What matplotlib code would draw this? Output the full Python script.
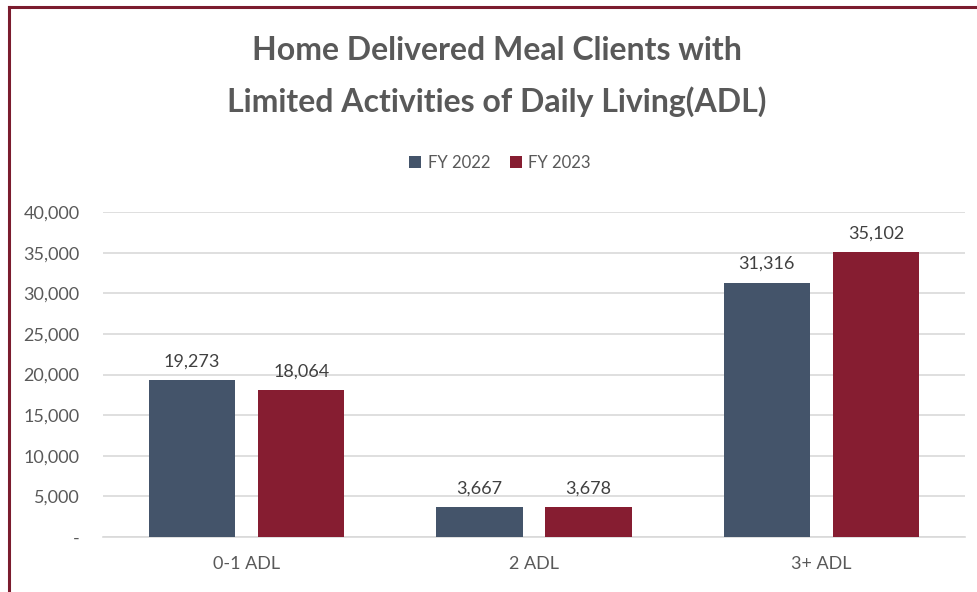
import numpy as np
import matplotlib.pyplot as plt
from matplotlib.lines import Line2D
from matplotlib.ticker import FuncFormatter

categories = ["0-1 ADL", "2 ADL", "3+ ADL"]
fy2022 = [19273, 3667, 31316]
fy2023 = [18064, 3678, 35102]
series_names = ["FY 2022", "FY 2023"]

blue = "#44546A"
red = "#861D31"
grey = "#595959"

plt.rcParams['font.family'] = ['Lato', 'DejaVu Sans']

fig = plt.figure(figsize=(9.77, 5.92), dpi=100)
ax = fig.add_axes([103/977, 1-537/592, 862/977, (537-212)/592])

x = np.arange(len(categories))
w = 0.30
off = 0.19
b1 = ax.bar(x - off, fy2022, w, color=blue, label=series_names[0], zorder=3)
b2 = ax.bar(x + off, fy2023, w, color=red, label=series_names[1], zorder=3)

for bars, vals in ((b1, fy2022), (b2, fy2023)):
    for rect, v in zip(bars, vals):
        ax.text(rect.get_x() + rect.get_width()/2, v + 1300, f"{v:,}",
                ha="center", va="bottom", fontsize=13, color="#404040")

ax.set_xlim(-0.5, 2.5)
ax.set_ylim(0, 40000)
ax.set_yticks(np.arange(0, 40001, 5000))
ax.yaxis.set_major_formatter(FuncFormatter(lambda v, p: "-" if v == 0 else f"{int(v):,}"))
ax.set_xticks(x)
ax.set_xticklabels(categories)
ax.tick_params(axis="both", length=0, labelsize=13, colors=grey)
ax.tick_params(axis="x", pad=14)
ax.tick_params(axis="y", pad=17)
ax.grid(axis="y", color="#D9D9D9", linewidth=1.2, zorder=0)
for s in ["top", "right", "left"]:
    ax.spines[s].set_visible(False)
ax.spines["bottom"].set_color("#D9D9D9")
ax.spines["bottom"].set_linewidth(1.2)

fig.text(497/977, 1-51/592, "Home Delivered Meal Clients with", ha="center", va="center",
         fontsize=23, fontweight="bold", color=grey)
fig.text(497/977, 1-102/592, "Limited Activities of Daily Living(ADL)", ha="center", va="center",
         fontsize=23, fontweight="bold", color=grey)

fig.legend(handles=[b1, b2], labels=series_names, loc="center", bbox_to_anchor=(500/977, 1-163/592),
           ncol=2, frameon=False, fontsize=12, labelcolor=grey, handlelength=0.7, handleheight=0.7,
           handletextpad=0.4, columnspacing=1.2)

# frame border (left and top edges visible)
fig.add_artist(Line2D([9/977, 9/977], [0, 1-7/592], color="#7B1C2E", linewidth=2.2))
fig.add_artist(Line2D([9/977, 1], [1-7/592, 1-7/592], color="#7B1C2E", linewidth=2.2))

fig.savefig("out.png", dpi=100)
